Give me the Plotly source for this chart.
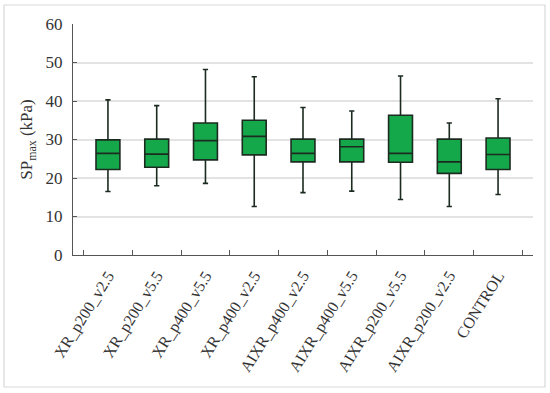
import plotly.graph_objects as go

categories = ["XR_p200_v2.5", "XR_p200_v5.5", "XR_p400_v5.5", "XR_p400_v2.5",
              "AIXR_p400_v2.5", "AIXR_p400_v5.5", "AIXR_p200_v5.5", "AIXR_p200_v2.5",
              "CONTROL"]
lower_whisker = [16.5, 18.0, 18.6, 12.6, 16.2, 16.6, 14.4, 12.6, 15.7]
q1_values     = [22.2, 22.8, 24.7, 26.0, 24.2, 24.2, 24.1, 21.2, 22.2]
median_values = [26.4, 26.2, 29.7, 30.8, 26.4, 28.1, 26.4, 24.2, 26.1]
q3_values     = [29.9, 30.1, 34.3, 35.0, 30.1, 30.1, 36.3, 30.1, 30.4]
upper_whisker = [40.3, 38.8, 48.2, 46.3, 38.3, 37.4, 46.5, 34.3, 40.6]
y_ticks = [0, 10, 20, 30, 40, 50, 60]

FONT = "Liberation Serif"

fig = go.Figure()
fig.add_trace(go.Box(
    x=categories,
    q1=q1_values, median=median_values, q3=q3_values,
    lowerfence=lower_whisker, upperfence=upper_whisker,
    fillcolor="#14a84b",
    line=dict(color="#1c2b20", width=1.6),
    width=0.49,
    whiskerwidth=0.22,
    boxpoints=False,
    hoverinfo="skip",
    showlegend=False,
))

fig.update_layout(
    width=550, height=393,
    margin=dict(l=73, r=17, t=24, b=138),
    paper_bgcolor="white", plot_bgcolor="white",
    font=dict(family=FONT, color="#333333"),
    xaxis=dict(
        type="category", automargin=False,
        showline=True, linecolor="#555555", linewidth=1.3,
        ticks="inside", tickson="boundaries", ticklen=5, tickcolor="#555555",
        tickangle=-58, tickfont=dict(size=16, family=FONT, color="#333333"),
        ticklabelstandoff=4,
        showgrid=False, mirror=False,
    ),
    yaxis=dict(
        range=[0, 60], tickvals=y_ticks, automargin=False,
        showline=True, linecolor="#555555", linewidth=1.3,
        ticks="inside", ticklen=4, tickcolor="#555555",
        showgrid=True, gridcolor="#e3e3e3", gridwidth=1.5,
        zeroline=False,
        ticklabelstandoff=6,
        tickfont=dict(size=17, family=FONT, color="#333333"),
        title=dict(text="SP<sub>max</sub> (kPa)", font=dict(size=17, family=FONT, color="#333333"), standoff=8),
    ),
    shapes=[dict(type="rect", xref="paper", yref="paper",
                 x0=(4 - 73) / 460, x1=(545 - 73) / 460,
                 y0=(255 - 387) / 231, y1=(255 - 5) / 231,
                 line=dict(color="#d9d9d9", width=1.2), fillcolor="rgba(0,0,0,0)", layer="above")],
)

fig.write_html("out.html", config={"displayModeBar": False},
               post_script="document.body.style.margin='0px';document.body.style.overflow='hidden';")
